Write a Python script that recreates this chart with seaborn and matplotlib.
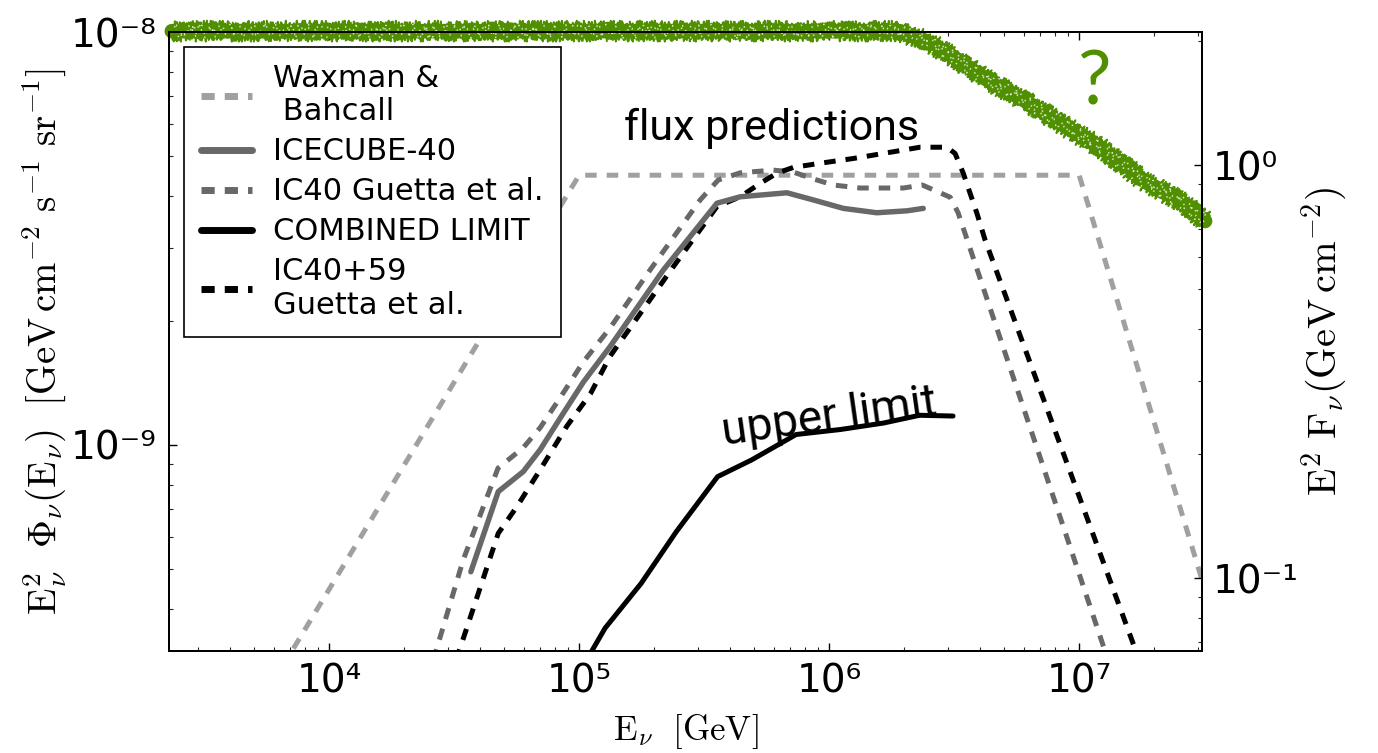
import numpy as np
import matplotlib
matplotlib.use("Agg")
import matplotlib.pyplot as plt
import matplotlib.ticker as mticker
from matplotlib.lines import Line2D
import seaborn as sns

# Neutrino energies in GeV, fluxes E^2 Phi in GeV cm^-2 s^-1 sr^-1
wb_energy = [6.5e3, 1e5, 1e7, 3.5e7]
wb_flux = [2.9e-10, 4.5e-9, 4.5e-9, 3.7e-10]

ic40_energy = [3.69e4, 4.75e4, 5.98e4, 6.98e4, 8.39e4, 1.04e5, 1.33e5, 2.17e5,
               3.56e5, 4.41e5, 6.78e5, 8.65e5, 1.14e6, 1.55e6, 2.05e6, 2.38e6]
ic40_flux = [4.93e-10, 7.71e-10, 8.62e-10, 9.73e-10, 1.16e-9, 1.42e-9, 1.73e-9, 2.65e-9,
             3.85e-9, 3.99e-9, 4.08e-9, 3.92e-9, 3.74e-9, 3.65e-9, 3.69e-9, 3.74e-9]

ic40_guetta_energy = [2.61e4, 3.44e4, 4.74e4, 5.97e4, 6.98e4, 8.39e4, 1.04e5, 1.33e5,
                      1.92e5, 3.05e5, 3.60e5, 4.41e5, 5.97e5, 7.18e5, 8.63e5, 1.04e6,
                      1.33e6, 1.98e6, 2.36e6, 3.05e6, 3.28e6, 1.41e7]
ic40_guetta_flux = [3.01e-10, 5.27e-10, 8.79e-10, 9.84e-10, 1.10e-9, 1.30e-9, 1.59e-9, 1.92e-9,
                    2.65e-9, 3.92e-9, 4.38e-9, 4.56e-9, 4.63e-9, 4.58e-9, 4.41e-9, 4.26e-9,
                    4.19e-9, 4.19e-9, 4.26e-9, 3.98e-9, 3.65e-9, 2.62e-10]

combined_energy = [1.07e5, 1.27e5, 1.77e5, 2.45e5, 3.58e5, 4.90e5, 7.38e5, 1.11e6,
                   1.65e6, 2.30e6, 3.13e6]
combined_flux = [3.01e-10, 3.60e-10, 4.62e-10, 6.17e-10, 8.38e-10, 9.20e-10, 1.06e-9, 1.09e-9,
                 1.13e-9, 1.18e-9, 1.175e-9]

ic4059_guetta_energy = [3.22e4, 4.75e4, 5.64e4, 6.98e4, 8.93e4, 1.11e5, 1.33e5, 2.38e5,
                        3.56e5, 4.41e5, 5.30e5, 6.18e5, 7.19e5, 9.20e5, 1.25e6, 1.81e6,
                        2.31e6, 2.96e6, 3.19e6, 3.44e6, 3.90e6, 4.21e6, 1.74e7]
ic4059_guetta_flux = [3.01e-10, 6.11e-10, 7.09e-10, 8.70e-10, 1.11e-9, 1.33e-9, 1.64e-9, 2.70e-9,
                      3.78e-9, 3.99e-9, 4.30e-9, 4.55e-9, 4.70e-9, 4.81e-9, 4.94e-9, 5.13e-9,
                      5.26e-9, 5.26e-9, 5.08e-9, 4.55e-9, 3.64e-9, 3.13e-9, 3.01e-10]

# Hand-drawn envelope on the right axis, E^2 F in GeV cm^-2
envelope_energy = [2.35e3, 1.92e6, 2.47e6, 3.05e6, 4.13e6, 5.97e6, 8.63e6, 1.25e7,
                   1.80e7, 2.61e7, 3.19e7]
envelope_value = [2.11, 2.11, 1.99, 1.85, 1.63, 1.44, 1.25, 1.09, 0.920, 0.809, 0.732]

legend_labels = ["Waxman &\n Bahcall", "ICECUBE-40", "IC40 Guetta et al.",
                 "COMBINED LIMIT", "IC40+59\nGuetta et al."]
x_ticks = [1e4, 1e5, 1e6, 1e7]
y_ticks = [1e-9, 1e-8]
y2_ticks = [1e-1, 1e0]

sns.set_theme(style="white")
plt.rcParams["font.family"] = ["DejaVu Sans"]
plt.rcParams["mathtext.fontset"] = "cm"
plt.rcParams["text.color"] = "black"

LIGHT = "#a0a0a0"
MID = "#686868"
GREEN = "#4f8f00"
DASH = (0, (2.3, 2.0))

fig = plt.figure(figsize=(13.78, 7.53), dpi=100)
ax = fig.add_axes([169 / 1378, 1 - 651 / 753, 1033 / 1378, 619 / 753])
ax.set_xscale("log")
ax.set_yscale("log")
ax.set_xlim(2.29e3, 3.10e7)
ax.set_ylim(3.17e-10, 1e-8)


def draw(target, x, y, **kw):
    sns.lineplot(x=x, y=y, ax=target, estimator=None, sort=False, **kw)
    return target.lines[-1]


draw(ax, wb_energy, wb_flux, color=LIGHT, lw=3.6, linestyle=DASH)
draw(ax, ic40_guetta_energy, ic40_guetta_flux, color=MID, lw=3.6, linestyle=DASH)
draw(ax, ic4059_guetta_energy, ic4059_guetta_flux, color="black", lw=3.6, linestyle=DASH)
draw(ax, ic40_energy, ic40_flux, color=MID, lw=3.9)
draw(ax, combined_energy, combined_flux, color="black", lw=3.6)

SUP = str.maketrans("-0123456789", "⁻⁰¹²³⁴⁵⁶⁷⁸⁹")


def pow_label(v, pos):
    return "10" + str(int(round(np.log10(v)))).translate(SUP)


def style_log_axis(axis, ticks):
    axis.set_major_locator(mticker.FixedLocator(ticks))
    axis.set_major_formatter(mticker.FuncFormatter(pow_label))
    axis.set_minor_locator(mticker.LogLocator(base=10, subs=np.arange(2, 10), numticks=100))
    axis.set_minor_formatter(mticker.NullFormatter())


style_log_axis(ax.xaxis, x_ticks)
style_log_axis(ax.yaxis, y_ticks)

ax.tick_params(axis="x", which="major", direction="in", length=5.8, width=1.0,
               top=True, bottom=True, labelsize=28, pad=8, colors="black")
ax.tick_params(axis="x", which="minor", direction="in", length=2.9, width=0.8,
               top=True, bottom=True)
ax.tick_params(axis="y", which="major", direction="in", length=5.8, width=1.0,
               left=True, right=False, labelsize=28, pad=9, colors="black")
ax.tick_params(axis="y", which="minor", direction="in", length=2.9, width=0.8,
               left=True, right=False)

for s in ax.spines.values():
    s.set_color("black")
    s.set_linewidth(1.4)

ax.set_xlabel(r"$\mathrm{E}_\nu\ \ [\mathrm{GeV}]$", fontsize=25, color="black")
ax.xaxis.set_label_coords(0.5, -0.098)
ax.set_ylabel(r"$\mathrm{E}_\nu^2\ \ \Phi_\nu(\mathrm{E}_\nu)\ \ "
              r"[\mathrm{GeV\,cm^{-2}\ s^{-1}\ sr^{-1}}]$", fontsize=28, color="black")
ax.yaxis.set_label_coords(-0.098, 0.5)

# Right-hand axis for the integrated flux
tw = ax.twinx()
tw.set_yscale("log")
tw.set_ylim(0.0666, 2.10)
style_log_axis(tw.yaxis, y2_ticks)
tw.tick_params(axis="y", which="major", direction="in", length=5.8, width=1.0,
               left=False, right=True, labelsize=28, pad=8, colors="black")
tw.tick_params(axis="y", which="minor", direction="in", length=2.9, width=0.8,
               left=False, right=True)
for s in tw.spines.values():
    s.set_color("black")
    s.set_linewidth(1.4)
tw.set_ylabel(r"$\mathrm{E}^2\ \mathrm{F}_\nu(\mathrm{GeV\,cm^{-2}})$", fontsize=29, color="black")
tw.yaxis.set_label_coords(1.095, 0.5)

# Marker-pen style envelope: solid core plus scribbled fringes and a few gaps
core = draw(tw, envelope_energy, envelope_value, color=GREEN, lw=10.5, clip_on=False)
core.set_solid_capstyle("round")
for lw, sk in [(1.6, (9.0, 2.5, 2.0)), (1.4, (10.5, 3.5, 3.0)), (1.3, (8.0, 5.0, 2.5))]:
    ln = draw(tw, envelope_energy, envelope_value, color=GREEN, lw=lw, clip_on=False)
    ln.set_sketch_params(*sk)
for lw, sk, pat in [(1.1, (6.0, 4.0, 3.0), (1.0, 9.0)), (0.9, (7.0, 6.0, 2.0), (1.5, 13.0))]:
    ln = draw(tw, envelope_energy, envelope_value, color="white", lw=lw, alpha=0.75,
              clip_on=False, linestyle=(0, pat))
    ln.set_sketch_params(*sk)

tw.text(0.896, 0.918, "?", transform=ax.transAxes, ha="center", va="center",
        fontsize=54, color=GREEN, family="Lato", fontweight="normal")

ax.text(0.583, 0.845, "flux predictions", transform=ax.transAxes, ha="center", va="center",
        fontsize=31, family="Roboto", fontweight="normal", color="black")
ax.text(0.639, 0.378, "upper limit", transform=ax.transAxes, ha="center", va="center",
        fontsize=33, family="Roboto", fontweight="normal", color="black", rotation=8.0)

handle_dash = (0, (1.9, 1.45))
handles = [
    Line2D([], [], color=LIGHT, lw=5, linestyle=handle_dash),
    Line2D([], [], color=MID, lw=5),
    Line2D([], [], color=MID, lw=5, linestyle=handle_dash),
    Line2D([], [], color="black", lw=5),
    Line2D([], [], color="black", lw=5, linestyle=handle_dash),
]
leg = tw.legend(handles, legend_labels, loc="upper left", bbox_to_anchor=(0.0145, 0.976),
                bbox_transform=ax.transAxes, borderaxespad=0, fontsize=22, frameon=True,
                fancybox=False, edgecolor="black", framealpha=1, handlelength=1.67,
                handletextpad=0.7, labelspacing=0.36, borderpad=0.55)
leg.get_frame().set_linewidth(1.2)
for t in leg.get_texts():
    t.set_color("black")
leg.set_zorder(1)

fig.savefig("out.png", dpi=100, facecolor="white")
